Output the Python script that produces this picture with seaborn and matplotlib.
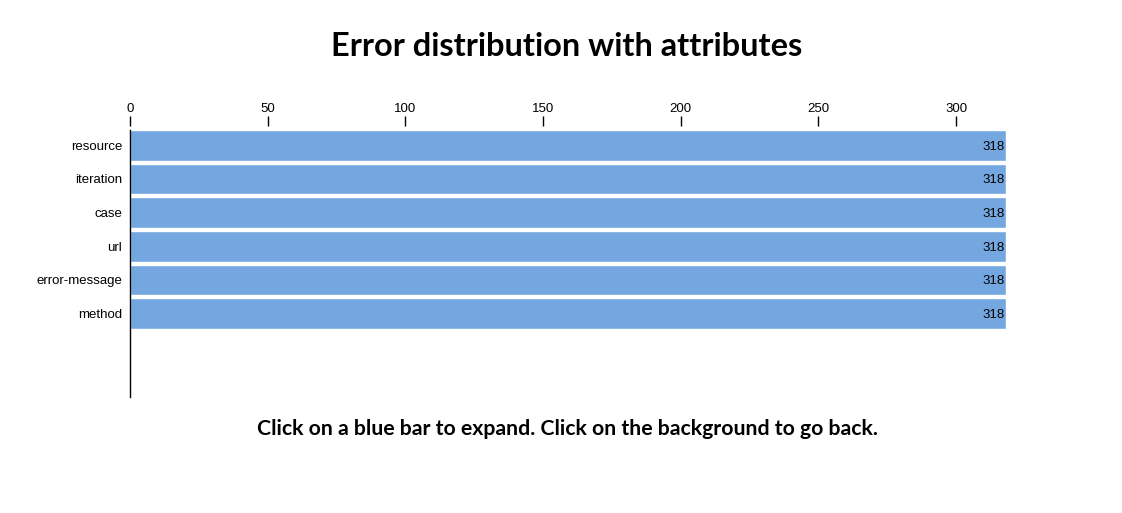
import pandas as pd
import matplotlib.pyplot as plt
import seaborn as sns

# Data
attributes = ["resource", "iteration", "case", "url", "error-message", "method"]
counts = [318, 318, 318, 318, 318, 318]
x_ticks = [0, 50, 100, 150, 200, 250, 300]

df = pd.DataFrame({"attribute": attributes, "count": counts})

sns.set_style("white")
plt.rcParams['font.family'] = ['Liberation Sans', 'DejaVu Sans']
plt.rcParams['text.color'] = 'black'

fig = plt.figure(figsize=(11.22, 5.13), dpi=100)
ax = fig.add_axes([130 / 1122, 1 - 397 / 513, 875.6 / 1122, 267 / 513])

sns.barplot(data=df, y="attribute", x="count", orient="h", color="#74a7e0",
            saturation=1, width=0.91, ax=ax)

ax.set_xlim(0, 318)
ax.set_ylim(7.475, -0.455)
ax.set_xlabel("")
ax.set_ylabel("")

# axis on top
ax.xaxis.tick_top()
ax.set_xticks(x_ticks)
ax.tick_params(axis="x", direction="out", length=7, width=1, color="black",
               labelsize=9.5, pad=1, labelcolor="black")
ax.tick_params(axis="y", length=0, labelsize=9.5, pad=5.5, labelcolor="black")
for side in ["top", "right", "bottom"]:
    ax.spines[side].set_visible(False)
ax.spines["top"].set_position(("outward", 3))
ax.spines["left"].set_color("black")
ax.spines["left"].set_linewidth(1)

for i, v in enumerate(counts):
    ax.text(v - 0.3, i, str(v), ha="right", va="center_baseline",
            fontsize=9.5, color="black")

fig.text(567 / 1122, 1 - 46 / 513, "Error distribution with attributes",
         ha="center", va="center", fontsize=23.4, fontweight="bold",
         color="black", family=["Lato", "DejaVu Sans"])
fig.text(567 / 1122, 1 - 429 / 513,
         "Click on a blue bar to expand. Click on the background to go back.",
         ha="center", va="center", fontsize=15.3, fontweight="bold",
         color="black", family=["Lato", "DejaVu Sans"])

fig.savefig("out.png", dpi=100)
